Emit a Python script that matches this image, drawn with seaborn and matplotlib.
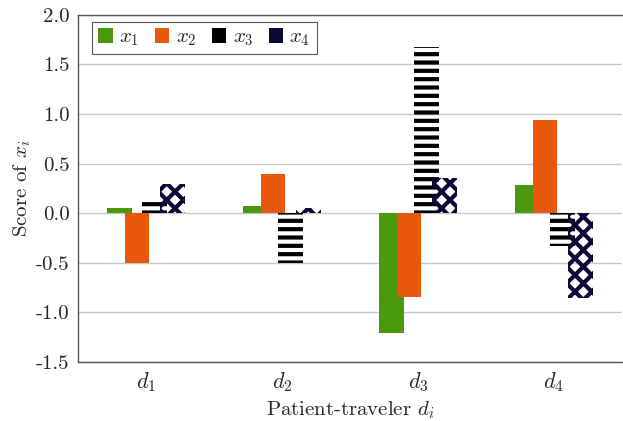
import pandas as pd
import matplotlib
matplotlib.use("Agg")
import matplotlib.pyplot as plt
import seaborn as sns

# data
patients = ["$d_1$", "$d_2$", "$d_3$", "$d_4$"]
series = ["$x_1$", "$x_2$", "$x_3$", "$x_4$"]
x1 = [0.05, 0.07, -1.21, 0.28]
x2 = [-0.50, 0.40, -0.84, 0.94]
x3 = [0.15, -0.50, 1.67, -0.33]
x4 = [0.29, 0.05, 0.35, -0.85]
yticks = [-1.5, -1.0, -0.5, 0.0, 0.5, 1.0, 1.5, 2.0]

rows = []
for name, vals in zip(series, [x1, x2, x3, x4]):
    for p, v in zip(patients, vals):
        rows.append({"patient": p, "series": name, "score": v})
df = pd.DataFrame(rows)

sns.set_style("white")
plt.rcParams["font.family"] = ["cmr10", "DejaVu Serif"]
plt.rcParams["mathtext.fontset"] = "cm"
plt.rcParams["axes.unicode_minus"] = False
plt.rcParams["axes.formatter.use_mathtext"] = True
plt.rcParams["hatch.linewidth"] = 3.0

palette = ["#4a990c", "#e8570a", "#000000", "#0b0833"]

fig = plt.figure(figsize=(6.23, 4.21), dpi=100)
ax = fig.add_axes([0.125, 0.14, 0.873, 0.825])

sns.barplot(data=df, x="patient", y="score", hue="series", order=patients,
            hue_order=series, palette=palette, width=0.52, gap=0,
            saturation=1, legend=False, linewidth=0, ax=ax)

# bars overlap a little in the original: widen each around its centre
for cont in ax.containers:
    for bar in cont:
        cx = bar.get_x() + bar.get_width() / 2
        bar.set_width(0.18)
        bar.set_x(cx - 0.09)

handles = [plt.Rectangle((0, 0), 1, 1, fc=c, ec="none") for c in palette]
leg = ax.legend(handles, series, ncol=4, loc="upper left",
                bbox_to_anchor=(0.026, 0.98), borderaxespad=0,
                fancybox=False, framealpha=1,
                edgecolor="#555555", fontsize=15, handlelength=0.7,
                handleheight=0.7, columnspacing=0.75, handletextpad=0.3,
                borderpad=0.3)
leg.get_frame().set_linewidth(0.8)

# patterned bars for x3 / x4
for bar in ax.containers[2]:
    bar.set_facecolor("none")
    bar.set_edgecolor("#000000")
    bar.set_hatch("--")
for bar in ax.containers[3]:
    bar.set_facecolor("none")
    bar.set_edgecolor("#0b0833")
    bar.set_hatch("xx")

ax.set_ylim(-1.5, 2.0)
ax.set_yticks(yticks)
ax.set_yticklabels([f"{t:.1f}" for t in yticks], fontsize=15)
ax.set_xticklabels(patients, fontsize=16)
ax.tick_params(axis="both", length=0, pad=6)
ax.set_axisbelow(True)
ax.yaxis.grid(True, color="#c8c8c8", linewidth=1)

for side in ["left", "bottom", "top"]:
    ax.spines[side].set_color("#555555")
    ax.spines[side].set_linewidth(1)
ax.spines["right"].set_visible(False)

ax.set_xlabel("Patient-traveler $d_i$", fontsize=15)
ax.set_ylabel("Score of $x_i$", fontsize=15, labelpad=2)

fig.savefig("out.png", dpi=100)
